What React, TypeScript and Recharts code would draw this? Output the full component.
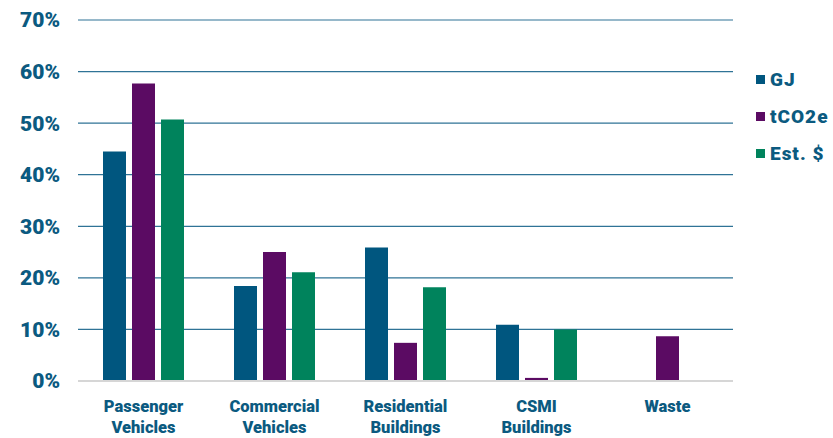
import { Bar, BarChart, CartesianGrid, XAxis, YAxis } from "recharts"

const categories = ["Passenger Vehicles", "Commercial Vehicles", "Residential Buildings", "CSMI Buildings", "Waste"]
const gj = [44.5, 18.4, 25.9, 10.9, 0]
const tco2e = [57.7, 25.0, 7.4, 0.6, 8.7]
const estCost = [50.7, 21.1, 18.2, 10.0, 0]
const yTicks = [0, 10, 20, 30, 40, 50, 60, 70]

const series = [
  { key: "gj", name: "GJ", color: "#00567f" },
  { key: "tco2e", name: "tCO2e", color: "#5b0b63" },
  { key: "est", name: "Est. $", color: "#00835c" },
]

const data = categories.map((c, i) => ({ category: c, gj: gj[i], tco2e: tco2e[i], est: estCost[i] }))

const FONT = "Roboto, 'Open Sans', sans-serif"
const TEXT = "#0b5a80"

function CategoryTick({ x, y, payload }: any) {
  const lines = String(payload.value).split(" ")
  return (
    <text x={x} y={y} textAnchor="middle" fill={TEXT} fontFamily={FONT} fontWeight={900} fontSize={16.5}>
      {lines.map((l, i) => (
        <tspan key={l} x={x} dy={i === 0 ? 23 : 21}>
          {l}
        </tspan>
      ))}
    </text>
  )
}

function LegendBox() {
  return (
    <div
      style={{
        position: "absolute",
        left: 756,
        top: 61,
        fontFamily: FONT,
        fontWeight: 900,
        fontSize: 19,
        letterSpacing: 1,
        color: TEXT,
      }}
    >
      {series.map((s) => (
        <div key={s.key} style={{ display: "flex", alignItems: "center", height: 37 }}>
          <span style={{ width: 9, height: 9, background: s.color, marginRight: 5, display: "inline-block" }} />
          {s.name}
        </div>
      ))}
    </div>
  )
}

export default function App() {
  return (
    <div style={{ position: "absolute", left: 0, top: 0, width: 833, height: 438, background: "#fff" }}>
      <BarChart
        width={833}
        height={438}
        data={data}
        margin={{ top: 20, right: 100, bottom: 0, left: 0 }}
        barCategoryGap="19%"
        barGap={6}
      >
        <CartesianGrid vertical={false} stroke="#2f7396" strokeWidth={1.2} />
        <XAxis
          dataKey="category"
          height={57}
          axisLine={{ stroke: "#d6d6d6", strokeWidth: 2 }}
          tickLine={false}
          interval={0}
          tick={<CategoryTick />}
        />
        <YAxis
          width={78}
          domain={[0, 70]}
          ticks={yTicks}
          axisLine={false}
          tickLine={false}
          tickMargin={12}
          tickFormatter={(v) => `${v}%`}
          tick={{ fill: TEXT, fontFamily: FONT, fontWeight: 900, fontSize: 21 }}
        />
        {series.map((s) => (
          <Bar key={s.key} dataKey={s.key} name={s.name} fill={s.color} barSize={23} isAnimationActive={false} />
        ))}
      </BarChart>
      <LegendBox />
    </div>
  )
}
